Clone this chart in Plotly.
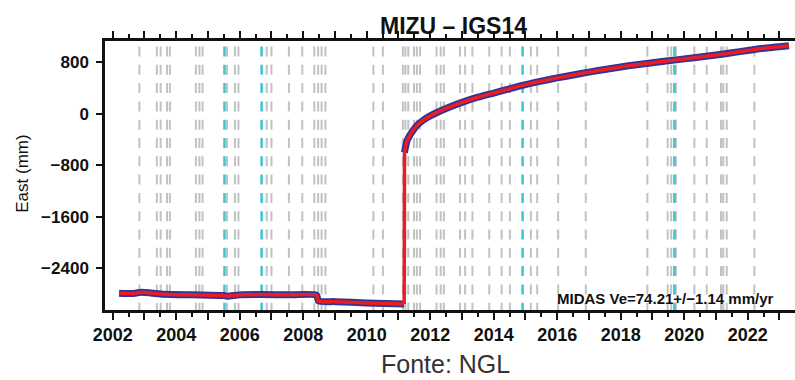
import plotly.graph_objects as go

# GNSS daily east component for station MIZU (IGS14), split at the 2011 Tohoku offset
years_pre = [2002.20, 2002.60, 2002.90, 2003.20, 2003.60, 2004.50, 2005.50, 2005.60,
             2006.00, 2006.70, 2007.50, 2008.42, 2008.48, 2009.00, 2010.00, 2011.18]
east_pre = [-2785, -2790, -2770, -2780, -2800, -2810, -2820, -2830,
            -2810, -2805, -2810, -2815, -2905, -2915, -2935, -2950]

years_post = [2011.19, 2011.22, 2011.26, 2011.35, 2011.47, 2011.60, 2011.80, 2012.00,
              2012.50, 2013.00, 2013.50, 2014.00, 2014.50, 2015.00, 2015.50, 2016.00,
              2016.50, 2017.00, 2017.50, 2018.00, 2018.50, 2019.00, 2019.50, 2020.00,
              2020.50, 2021.00, 2021.50, 2022.00, 2022.50, 2023.30]
east_post = [-600, -520, -430, -340, -250, -170, -90, -30,
             85, 180, 260, 325, 390, 455, 510, 560,
             605, 650, 690, 730, 765, 795, 825, 855,
             885, 915, 950, 985, 1020, 1060]

# Epochs of equipment changes (grey) and earthquakes (cyan)
equip_dates = [2002.84, 2003.39, 2003.51, 2003.71, 2003.80, 2004.62, 2004.73, 2004.83,
               2005.60, 2005.85, 2005.96, 2006.85, 2007.00, 2007.55, 2007.97, 2008.35,
               2008.47, 2008.58, 2008.70, 2010.21, 2010.51, 2011.14, 2011.22, 2011.31,
               2011.49, 2011.58, 2011.68, 2012.20, 2012.33, 2012.43, 2012.94, 2013.10,
               2013.33, 2013.86, 2014.25, 2014.51, 2015.17, 2015.37, 2016.03, 2016.90,
               2018.84, 2019.48, 2019.59, 2019.74, 2020.32, 2020.71, 2021.16, 2021.23,
               2021.34, 2022.21]
quake_dates = [2005.52, 2006.69, 2014.91, 2019.69]

y_ticks = [800, 0, -800, -1600, -2400]
y_tick_text = ["800", "0", "\u2212800", "\u22121600", "\u22122400"]
x_years = list(range(2002, 2024))
x_tick_text = [str(y) if y % 2 == 0 else "" for y in x_years]

FONT = "Liberation Sans"
BLUE = "#2e3596"
RED = "#ec1c24"
GREY = "#c2c2c2"
CYAN = "#3cc6cf"

# plot area geometry in pixels
L, R, T, B = 105, 795, 41, 310.5
W, H = R - L, B - T


def px(x):
    return (x - L) / W


def py(y):
    return (B - y) / H


fig = go.Figure()

# pre-seismic observations
fig.add_trace(go.Scatter(x=years_pre, y=east_pre, mode="lines",
                         line=dict(color=BLUE, width=7, shape="spline", smoothing=0.6),
                         hoverinfo="skip"))
# post-seismic observations
fig.add_trace(go.Scatter(x=years_post, y=east_post, mode="lines",
                         line=dict(color=BLUE, width=7, shape="spline", smoothing=0.6),
                         hoverinfo="skip"))
# model fit, continuous across the coseismic jump
fig.add_trace(go.Scatter(x=years_pre, y=east_pre, mode="lines",
                         line=dict(color=RED, width=3.5, shape="spline", smoothing=0.6),
                         hoverinfo="skip"))
fig.add_trace(go.Scatter(x=[years_pre[-1], years_post[0]], y=[east_pre[-1], east_post[0]],
                         mode="lines", line=dict(color=RED, width=3.5), hoverinfo="skip"))
fig.add_trace(go.Scatter(x=years_post, y=east_post, mode="lines",
                         line=dict(color=RED, width=3.5, shape="spline", smoothing=0.6),
                         hoverinfo="skip"))

shapes = []
for d in equip_dates:
    shapes.append(dict(type="line", xref="x", yref="paper", x0=d, x1=d,
                       y0=py(46.5), y1=0, layer="below",
                       line=dict(color=GREY, width=2, dash="10px,8.3px")))
for d in quake_dates:
    shapes.append(dict(type="line", xref="x", yref="paper", x0=d, x1=d,
                       y0=py(46.5), y1=0, layer="below",
                       line=dict(color=CYAN, width=2.5, dash="10px,8.3px")))

annotations = [
    dict(text="<b>MIZU \u2013 IGS14</b>", xref="paper", yref="paper",
         x=px(453), y=py(25.5), xanchor="center", yanchor="middle", showarrow=False,
         font=dict(family=FONT, size=23, color="#111")),
    dict(text="<b>MIDAS Ve=74.21+/\u22121.14 mm/yr</b>", xref="paper", yref="paper",
         x=px(776), y=py(299), xanchor="right", yanchor="middle", showarrow=False,
         font=dict(family=FONT, size=15, color="#111")),
    dict(text="East (mm)", xref="paper", yref="paper", textangle=-90,
         x=px(23), y=py(174), xanchor="center", yanchor="middle", showarrow=False,
         font=dict(family=FONT, size=17, color="#111")),
    dict(text="Fonte: NGL", xref="paper", yref="paper",
         x=px(445), y=py(365), xanchor="center", yanchor="middle", showarrow=False,
         font=dict(family=FONT, size=25, color="#333")),
]

fig.update_layout(
    width=795, height=380,
    margin=dict(l=L, r=795 - R, t=T, b=380 - B, pad=0),
    paper_bgcolor="white", plot_bgcolor="white",
    showlegend=False,
    shapes=shapes,
    annotations=annotations,
    font=dict(family=FONT, color="#111"),
)

fig.update_xaxes(
    range=[2001.757, 2023.49],
    tickmode="array", tickvals=x_years, ticktext=x_tick_text,
    ticks="outside", ticklen=7, tickwidth=2, tickcolor="#111",
    minor=dict(dtick=0.5, tick0=2002, ticks="outside", ticklen=4, tickwidth=1.5,
               tickcolor="#111", showgrid=False),
    showline=True, linecolor="#111", linewidth=2.5, mirror="ticks",
    showgrid=False, zeroline=False,
    tickfont=dict(family=FONT, size=18, color="#111", weight="bold"),
)
fig.update_yaxes(
    range=[-3045, 1133],
    tickmode="array", tickvals=y_ticks, ticktext=y_tick_text,
    ticks="outside", ticklen=6, tickwidth=2, tickcolor="#111",
    showline=True, linecolor="#111", linewidth=2.5,
    showgrid=False, zeroline=False,
    tickfont=dict(family=FONT, size=17, color="#111", weight="bold"),
    ticklabelstandoff=4,
)

fig.write_html("out.html")
